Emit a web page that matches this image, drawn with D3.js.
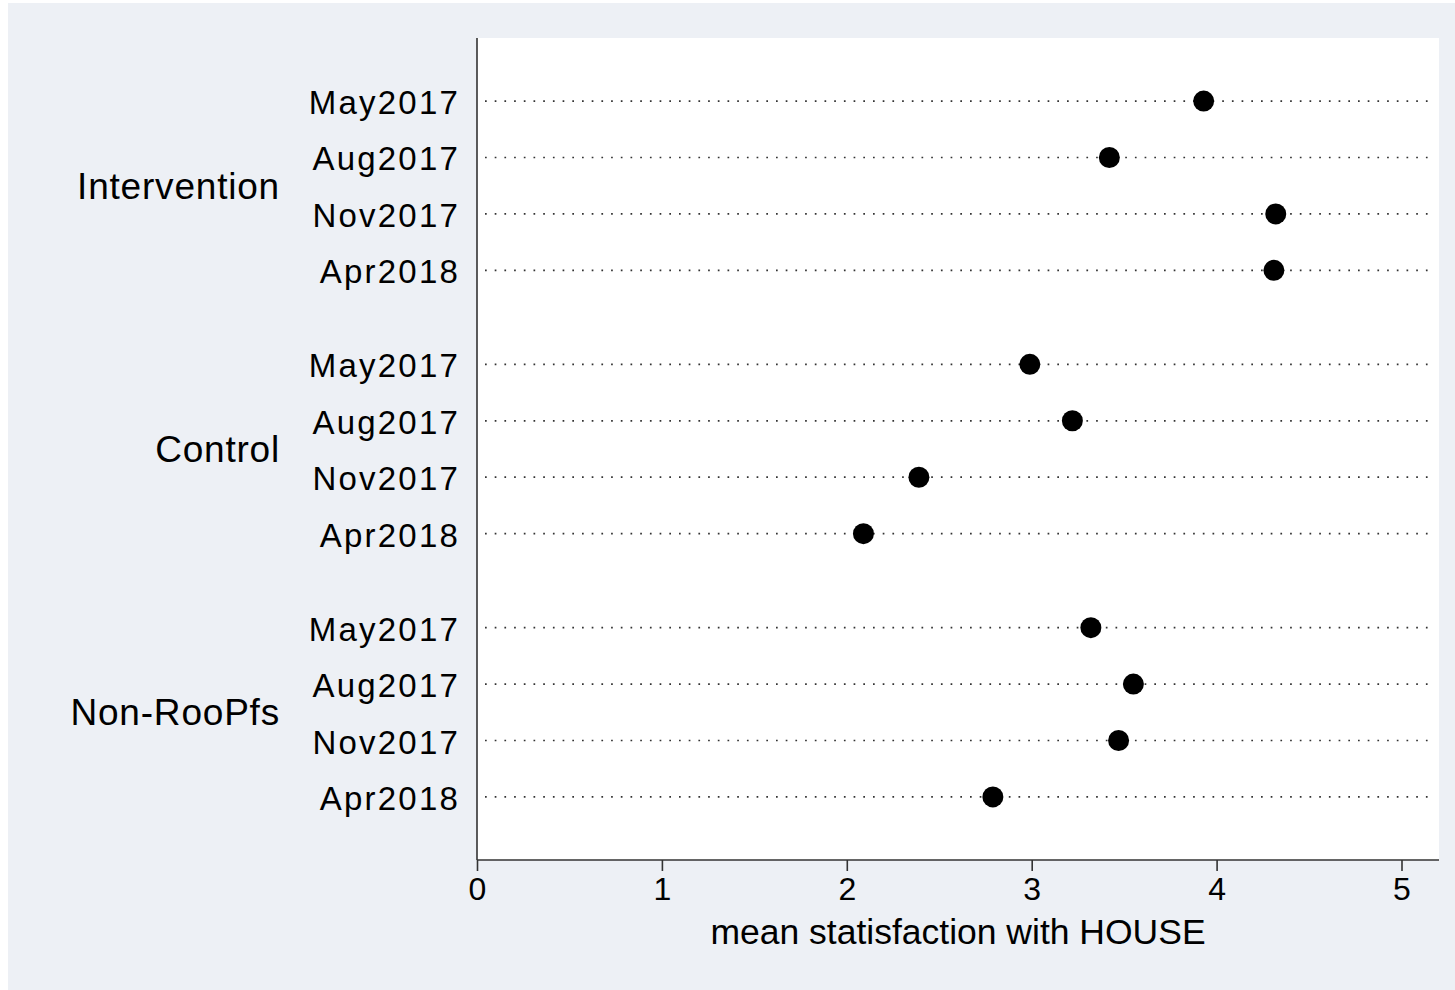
<!DOCTYPE html>
<html>
<head>
<meta charset="utf-8">
<script src="https://cdn.jsdelivr.net/npm/d3@7"></script>
<style>
  html, body { margin: 0; padding: 0; background: #ffffff; }
  svg { display: block; }
  text { font-family: "Liberation Sans", Arial, sans-serif; fill: #000; }
</style>
</head>
<body>
<svg id="chart" width="1455" height="990"></svg>
<script>
// Survey groups and waves
const groups = ["Intervention", "Control", "Non-RooPfs"];
const waves = ["May2017", "Aug2017", "Nov2017", "Apr2018"];

// Mean satisfaction with house, one array per group (in wave order)
const intervention = [3.93, 3.42, 4.32, 4.31];
const control = [2.99, 3.22, 2.39, 2.09];
const nonRooPfs = [3.32, 3.55, 3.47, 2.79];

const xTicks = [0, 1, 2, 3, 4, 5];
const xTitle = "mean statisfaction with HOUSE";

const seriesByGroup = [intervention, control, nonRooPfs];

const svg = d3.select("#chart");

// outer panel
svg.append("rect")
  .attr("x", 8).attr("y", 3)
  .attr("width", 1447).attr("height", 987)
  .attr("fill", "#edf0f5");

// plot region
const plot = { left: 477, right: 1439, top: 38, bottom: 860 };
svg.append("rect")
  .attr("x", plot.left).attr("y", plot.top)
  .attr("width", plot.right - plot.left)
  .attr("height", plot.bottom - plot.top)
  .attr("fill", "#ffffff");

const x = d3.scaleLinear().domain([0, 5]).range([477, 1401.5]);

// rows laid out in units: one unit per wave, with a gap between groups
const groupGap = 2 / 3;
const groupSpan = waves.length + groupGap;
const totalUnits = (groups.length - 1) * groupSpan + (waves.length - 1);
const padUnits = 1.118;
const y = d3.scaleLinear()
  .domain([-padUnits, totalUnits + padUnits])
  .range([plot.top, plot.bottom]);

const rows = [];
groups.forEach((g, gi) => {
  waves.forEach((w, wi) => {
    rows.push({ group: g, wave: w, value: seriesByGroup[gi][wi], pos: gi * groupSpan + wi });
  });
});

// dotted guide lines
svg.append("g").selectAll("line")
  .data(rows)
  .join("line")
  .attr("x1", plot.left + 8)
  .attr("x2", plot.right - 7)
  .attr("y1", d => y(d.pos))
  .attr("y2", d => y(d.pos))
  .attr("stroke", "#333")
  .attr("stroke-width", 1.7)
  .attr("stroke-dasharray", "1.7,8");

// markers
svg.append("g").selectAll("circle")
  .data(rows)
  .join("circle")
  .attr("cx", d => x(d.value))
  .attr("cy", d => y(d.pos))
  .attr("r", 10.5)
  .attr("fill", "#000");

// wave labels
svg.append("g").selectAll("text")
  .data(rows)
  .join("text")
  .attr("x", 460)
  .attr("y", d => y(d.pos) + 13)
  .attr("text-anchor", "end")
  .attr("font-size", 33)
  .attr("letter-spacing", "2.2px")
  .text(d => d.wave);

// group labels
svg.append("g").selectAll("text")
  .data(groups)
  .join("text")
  .attr("x", 280)
  .attr("y", (d, i) => y(i * groupSpan + (waves.length - 1) / 2) + 13)
  .attr("text-anchor", "end")
  .attr("font-size", 37)
  .attr("letter-spacing", "0.8px")
  .text(d => d);

// left axis line
svg.append("line")
  .attr("x1", plot.left).attr("x2", plot.left)
  .attr("y1", plot.top).attr("y2", plot.bottom)
  .attr("stroke", "#333").attr("stroke-width", 1.6);

// bottom axis
const xAxis = d3.axisBottom(x)
  .tickValues(xTicks)
  .tickSize(11)
  .tickPadding(6)
  .tickFormat(d3.format("d"));

const gx = svg.append("g")
  .attr("transform", `translate(0,${plot.bottom})`)
  .call(xAxis);
gx.select(".domain").remove();
gx.append("line")
  .attr("x1", plot.left).attr("x2", plot.right)
  .attr("y1", 0).attr("y2", 0)
  .attr("stroke", "#333").attr("stroke-width", 1.6);
gx.selectAll(".tick line").attr("stroke", "#333").attr("stroke-width", 1.6);
gx.selectAll(".tick text")
  .attr("font-size", 32)
  .attr("font-family", "Liberation Sans, Arial, sans-serif")
  .attr("fill", "#000");

// axis title, centred on the plot region
svg.append("text")
  .attr("x", (plot.left + plot.right) / 2)
  .attr("y", 944)
  .attr("text-anchor", "middle")
  .attr("font-size", 35.5)
  .text(xTitle);
</script>
</body>
</html>
